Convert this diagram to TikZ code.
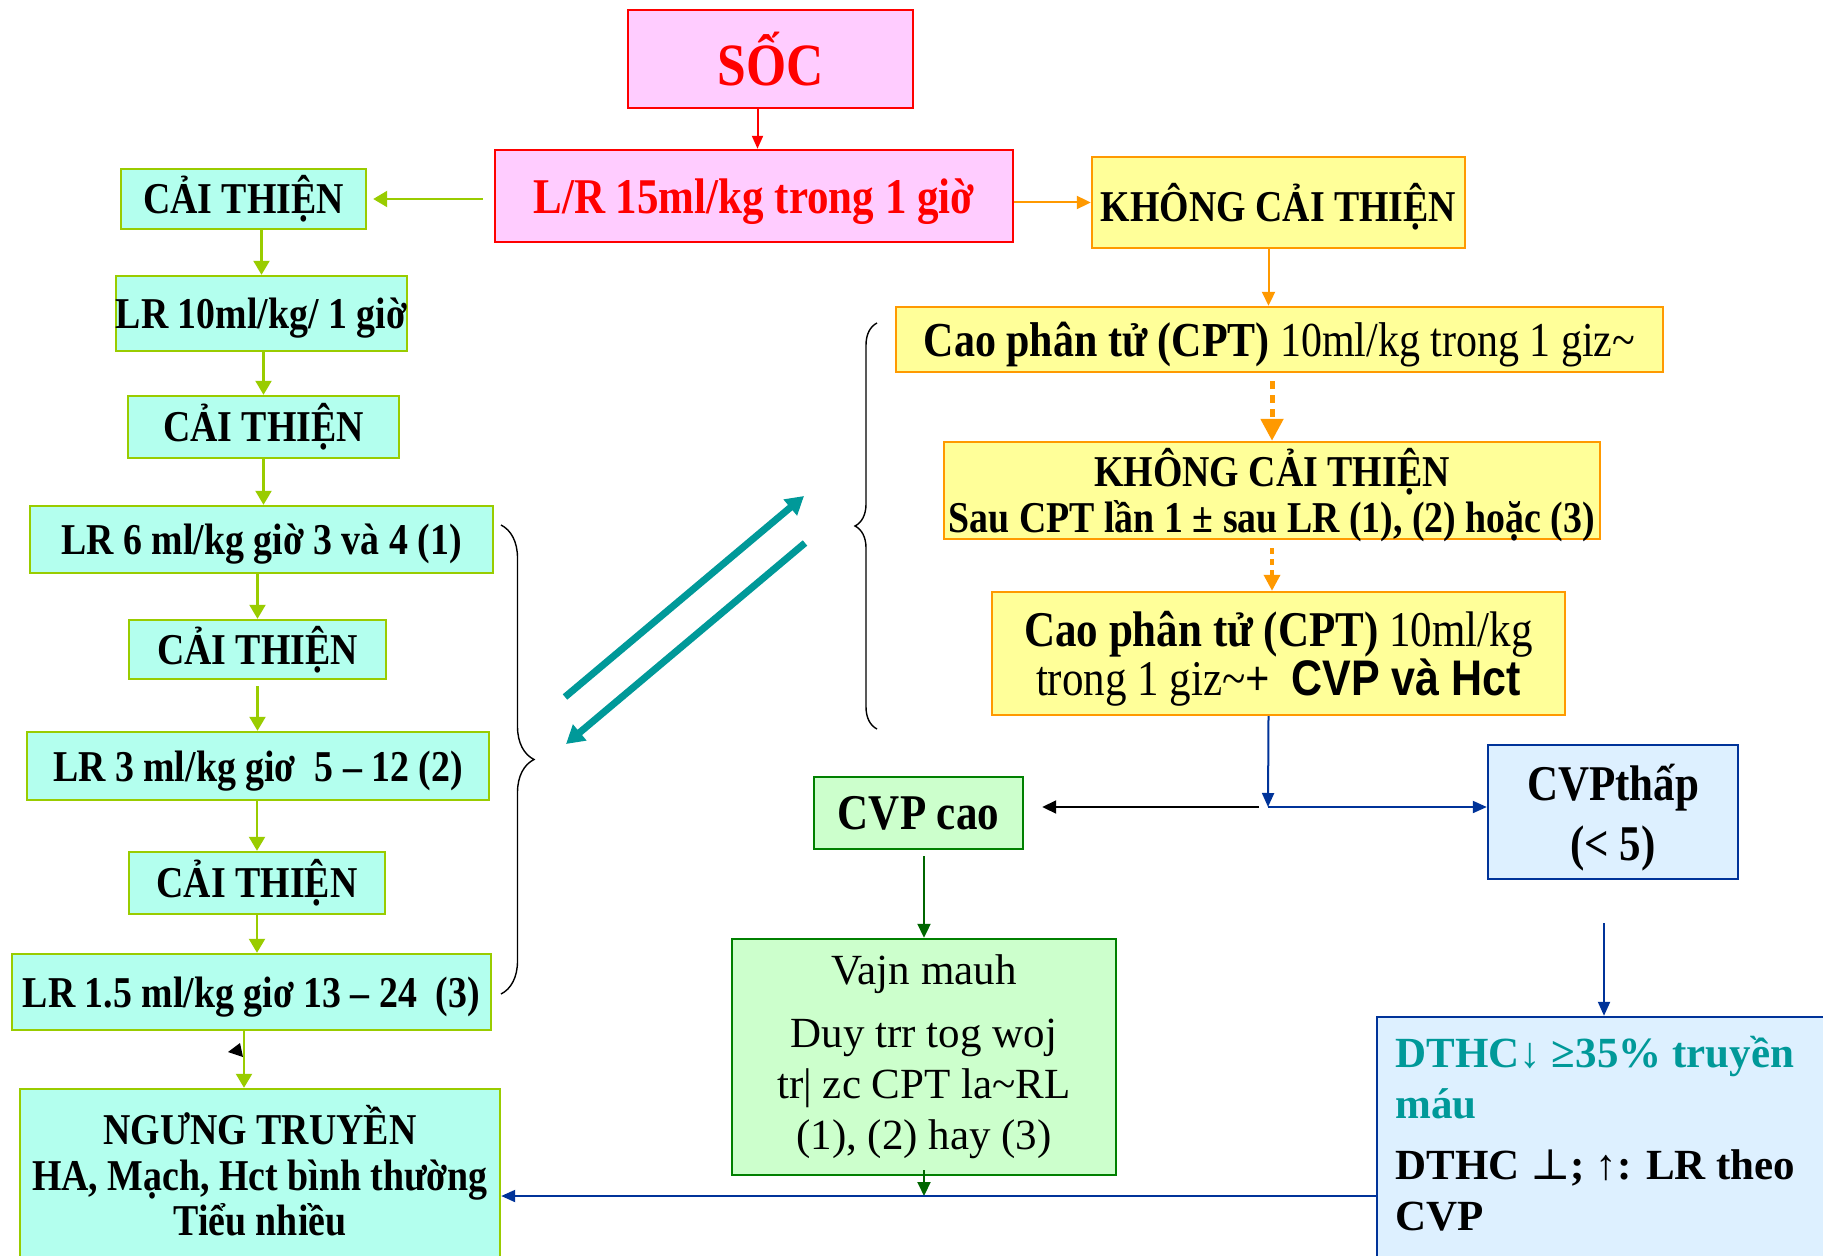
\documentclass[tikz,border=0pt]{standalone}
\usepackage{fontspec}
\setmainfont{Liberation Serif}[FakeStretch=0.86]
\newfontfamily\wide{Liberation Serif}
\newfontfamily\arialb{Liberation Sans}[FakeStretch=0.86]
\newfontfamily\symf{DejaVu Serif}
\usetikzlibrary{arrows.meta,calc,decorations.pathreplacing}
\newcommand{\myfs}[2]{\fontsize{#1}{#2}\selectfont}
\definecolor{pinkf}{HTML}{FFCCFF}
\definecolor{aquaf}{HTML}{B3FFEE}
\definecolor{limeb}{HTML}{99CC00}
\definecolor{yelf}{HTML}{FFFF99}
\definecolor{orab}{HTML}{FF9900}
\definecolor{grf}{HTML}{CCFFCC}
\definecolor{grb}{HTML}{008000}
\definecolor{grarrow}{HTML}{006600}
\definecolor{bluef}{HTML}{DDF0FF}
\definecolor{blueb}{HTML}{003399}
\definecolor{tealc}{HTML}{009999}
\tikzset{
  boxbase/.style={draw, line width=1.2pt, inner sep=0pt, align=center},
  pinkbox/.style={boxbase, draw=red, fill=pinkf},
  aquabox/.style={boxbase, draw=limeb, fill=aquaf},
  yelbox/.style={boxbase, draw=orab, fill=yelf},
  grbox/.style={boxbase, draw=grb, fill=grf},
  bluebox/.style={boxbase, draw=blueb, fill=bluef},
  bf22/.style={font=\myfs{22}{23}\bfseries},
  lowtext/.style={text depth=0pt},
  ra/.style={draw=red, line width=1pt, -{Triangle[length=6.5pt,width=5.5pt]}},
  ga/.style={draw=limeb, line width=1.1pt, -{Triangle[length=7pt,width=8pt]}},
  oa/.style={draw=orab, line width=1pt, -{Triangle[length=7pt,width=6.5pt]}},
  oda/.style={draw=orab, line width=2.5pt, dash pattern=on 4pt off 3pt, -{Triangle[length=11pt,width=11pt]}},
  odb/.style={draw=orab, line width=1.8pt, dash pattern=on 3pt off 2.5pt, -{Triangle[length=8pt,width=8pt]}},
  ba/.style={draw=blueb, line width=1pt, -{Triangle[length=7pt,width=6pt]}},
  ka/.style={draw=black, line width=1pt, -{Triangle[length=7pt,width=6.5pt]}},
  gka/.style={draw=grarrow, line width=1pt, -{Triangle[length=7pt,width=6.5pt]}},
  ta/.style={draw=tealc, line width=3.5pt, -{Triangle[length=9pt,width=10pt]}},
  bracestyle/.style={draw=black, line width=0.7pt, decorate},
}
\begin{document}
\begin{tikzpicture}[x=0.5pt,y=-0.5pt]
\useasboundingbox (0,0) rectangle (1823,1256);
\fill[white] (0,0) rectangle (1823,1256);
\clip (0,0) rectangle (1823,1256);

% top
\node[pinkbox, minimum width=142.5pt, minimum height=49pt, font=\myfs{30}{32}\bfseries, text=red] (soc) at (770.5,59) {SỐC};
\node[pinkbox, minimum width=259pt, minimum height=46pt, font=\myfs{25}{27}\bfseries, text=red, text depth=-2pt] (lr15) at (754,196) {L/R 15ml/kg trong 1 giờ};

% left column
\node[aquabox, bf22, minimum width=122.5pt, minimum height=30pt] (ct1) at (243.5,199) {CẢI THIỆN};
\node[aquabox, bf22, lowtext, minimum width=144.5pt, minimum height=37.5pt] (lr10) at (261.5,313.5) {LR 10ml/kg/ 1 giờ};
\node[aquabox, bf22, minimum width=135.5pt, minimum height=31pt] (ct2) at (263.5,427) {CẢI THIỆN};
\node[aquabox, bf22, lowtext, minimum width=231.5pt, minimum height=33.5pt] (lr6) at (261.5,539.5) {LR 6 ml/kg giờ 3 và 4 (1)};
\node[aquabox, bf22, minimum width=128.5pt, minimum height=29.5pt] (ct3) at (257.5,649.5) {CẢI THIỆN};
\node[aquabox, bf22, lowtext, minimum width=231pt, minimum height=34pt] (lr3) at (258,766) {LR 3 ml/kg giơ\ \ 5 – 12 (2)};
\node[aquabox, bf22, minimum width=128pt, minimum height=31pt] (ct4) at (257,883) {CẢI THIỆN};
\node[aquabox, bf22, text depth=-0.5pt, minimum width=239.5pt, minimum height=38pt] (lr15b) at (251.5,992) {LR 1.5 ml/kg giơ 13 – 24\ \ (3)};
\node[aquabox, font=\myfs{22}{22.6}\bfseries, text depth=5.5pt, minimum width=240pt, minimum height=87pt] (stop) at (260,1176) {NGƯNG TRUYỀN\\HA, Mạch, Hct bình thường\\Tiểu nhiều};

% right column
\node[yelbox, bf22, lowtext, minimum width=186.5pt, minimum height=45.5pt] (kct1) at (1278.5,202.5) {KHÔNG CẢI THIỆN};
\node[yelbox, font=\myfs{24.4}{26}, text depth=-1pt, minimum width=383.5pt, minimum height=32.5pt] (cpt1) at (1279.5,339.5) {\textbf{Cao phân tử (CPT)} 10ml/kg trong 1 giz\textasciitilde};
\node[yelbox, bf22, lowtext, minimum width=328pt, minimum height=48.5pt] (kct2) at (1272,490.5) {KHÔNG CẢI THIỆN\\Sau CPT lần 1 ± sau LR (1), (2) hoặc (3)};
\node[yelbox, font=\myfs{25}{24.5}, lowtext, minimum width=286.5pt, minimum height=61.5pt] (cpt2) at (1278.5,653.5) {\textbf{Cao phân tử (CPT)} 10ml/kg\\trong 1 giz\textasciitilde\textbf{+}\ \ {\arialb\bfseries CVP và Hct}};

\node[grbox, font=\myfs{25}{27}\bfseries, minimum width=104.5pt, minimum height=36pt] (cvpcao) at (918.5,813) {CVP cao};
\node[grbox, font=\wide\myfs{21.5}{25.5}, minimum width=192pt, minimum height=118pt] (vanmach) at (924,1057) {Vajn mauh\\[6pt]Duy trr tog woj\\tr\textbar{} zc CPT la\textasciitilde RL\\(1), (2) hay (3)};
\node[bluebox, font=\myfs{25}{30}\bfseries, lowtext, minimum width=125pt, minimum height=67pt] (cvpthap) at (1613,812) {CVPthấp\\(< 5)};
\node[bluebox, minimum width=261.5pt, minimum height=141.5pt] (dthc) at (1638.5,1158.5) {};
\node[anchor=north west, inner sep=0pt, align=left, font=\wide\myfs{21.5}{25.5}\bfseries] (dthct) at (1395,1036)
  {\textcolor{tealc}{DTHC↓ ≥35\% truyền}\\\textcolor{tealc}{máu}\\[5pt]DTHC {\symf\mdseries ⊥}; ↑: LR theo\\CVP};

% connectors
\draw[ra] ([xshift=-6.5pt]soc.south) -- ([xshift=-6.5pt]soc.south |- lr15.north);
\draw[ga] ([xshift=-5.5pt]lr15.west |- ct1.east) -- ([xshift=3pt]ct1.east);
\draw[oa] (lr15.east |- kct1.west) -- (kct1.west);
\draw[ga] (lr10.north |- ct1.south) -- (lr10.north);
\draw[ga] (ct2.north |- lr10.south) -- (ct2.north);
\draw[ga] (ct2.south) -- (ct2.south |- lr6.north);
\draw[ga] (ct3.north |- lr6.south) -- (ct3.north);
\draw[ga] ([yshift=-3pt]ct3.south) -- (ct3.south |- lr3.north);
\draw[ga] (ct4.north |- lr3.south) -- (ct4.north);
\draw[ga] (ct4.south) -- (ct4.south |- lr15b.north);
\draw[ga] ([xshift=-3.75pt]lr15b.south) -- ([xshift=-3.75pt]lr15b.south |- stop.north);
\fill[black] (228,1052) -- (240,1043) -- (243,1057) -- cycle;

\draw[oa] ([xshift=-5pt]kct1.south) -- ([xshift=-5pt]kct1.south |- cpt1.north);
\draw[oda] ([yshift=-4pt]kct2.north |- cpt1.south) -- (kct2.north);
\draw[odb] ([yshift=-4pt]kct2.south) -- (kct2.south |- cpt2.north);

\coordinate (j) at (1268,807);
\draw[ba] ([xshift=-5pt]cpt2.south) -- (j);
\draw[ba] (j) -- (j -| cvpthap.west);
\draw[ka] ([xshift=-4.5pt]j) -- ([xshift=9pt]j -| cvpcao.east);
\draw[gka] ([yshift=-3pt]vanmach.north |- cvpcao.south) -- (vanmach.north);
\coordinate (jb) at (925,1196);
\draw[gka] ([yshift=3pt]vanmach.south) -- (vanmach.south |- jb);
\draw[ba] (jb -| dthc.west) -- (jb -| stop.east);
\draw[ba] ($(cvpthap.south)+(-9,43)$) -- ($(cvpthap.south |- dthc.north)+(-9,0)$);

% teal arrows
\coordinate (t1a) at (565,697);
\coordinate (t1b) at (804,496);
\coordinate (t2a) at (805,543);
\coordinate (t2b) at (566,744);
\draw[ta] (t1a) -- (t1b);
\draw[ta] (t2a) -- (t2b);

% braces
\draw[bracestyle, decoration={brace, amplitude=16.5pt}] (501,525) -- (501,994);
\draw[bracestyle, decoration={brace, amplitude=11pt}] (877,729) -- (877,323);
\end{tikzpicture}
\end{document}
